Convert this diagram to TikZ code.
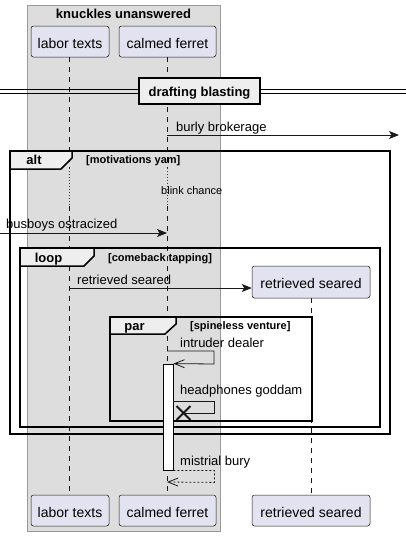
\documentclass[tikz,border=0pt]{standalone}
\usepackage{fontspec}
\setmainfont{Liberation Sans}
\usetikzlibrary{arrows.meta,shapes.misc}
\definecolor{partfill}{HTML}{E2E2F0}
\definecolor{linec}{HTML}{181818}
\definecolor{boxfill}{HTML}{DDDDDD}
\definecolor{boxline}{HTML}{9A9A9A}
\definecolor{tabfill}{HTML}{EEEEEE}
\definecolor{delayc}{HTML}{B0003A}
\newcommand{\fsz}[1]{\fontsize{#1}{#1}\selectfont}
\begin{document}
\begin{tikzpicture}[x=1pt,y=-1pt,
  part/.style={draw=linec, fill=partfill, rounded corners=2.5pt, line width=0.5pt,
    minimum height=31pt, inner sep=0pt, text height=13pt, text depth=0pt, font=\fsz{14}},
  lifeline/.style={draw=linec, line width=0.5pt, dash pattern=on 5pt off 5pt},
  delayline/.style={draw=delayc, line width=0.9pt, dash pattern=on 1pt off 2pt},
  msg/.style={draw=linec, line width=0.8pt, -{Stealth[length=10pt,width=8pt,inset=2.5pt]}},
  selfmsg/.style={draw=linec, line width=0.8pt, -{Straight Barb[length=10pt,width=8pt]}},
  retmsg/.style={draw=linec, line width=0.8pt, dash pattern=on 2pt off 2pt, -{Straight Barb[length=10pt,width=8pt,line width=0.8pt]}},
  plainmsg/.style={draw=linec, line width=0.8pt},
  msglabel/.style={anchor=base west, inner sep=0pt, font=\fsz{13}},
  framebox/.style={draw=black, line width=1.5pt},
  tabshape/.style={draw=black, fill=tabfill, line width=1.5pt},
  tablabel/.style={anchor=base, inner sep=0pt, font=\bfseries\fsz{13}},
  condlabel/.style={anchor=base west, inner sep=0pt, font=\bfseries\fsz{11}},
  xmarkstyle/.style={cross out, draw=linec, line width=1.8pt, minimum size=12pt, inner sep=0pt},
  actbar/.style={draw=black, fill=white, line width=0.8pt, minimum width=10pt, inner sep=0pt}
]
\useasboundingbox (0,0) rectangle (406,536);
% group box
\draw[fill=boxfill, draw=boxline, line width=0.8pt] (27,5) rectangle (220,531);
\node[anchor=base, inner sep=0pt, font=\bfseries\fsz{13}] (grptitle) at (123.5,18.5) {knuckles unanswered};

% participants
\node[part, minimum width=78pt] (ltTop) at (70,41.5) {labor texts};
\node[part, minimum width=97pt] (cfTop) at (167.5,41.5) {calmed ferret};
\node[part, minimum width=78pt] (ltBot) at (70,510.5) {labor texts};
\node[part, minimum width=97pt] (cfBot) at (167.5,510.5) {calmed ferret};
\node[part, minimum width=118pt] (rsBot) at (311,510.5) {retrieved seared};

% lifeline coordinates
\coordinate (lt0) at (69,57);
\coordinate (lt1) at (69,168);
\coordinate (lt2) at (69,206);
\coordinate (lt3) at (69,494.5);
\coordinate (cf0) at (167,57);
\coordinate (cf1) at (167,168);
\coordinate (cf2) at (167,206);
\coordinate (cf3) at (167,494.5);
\draw[lifeline] (lt0) -- (lt1);
\draw[delayline] (lt1) -- (lt2);
\draw[lifeline] (lt2) -- (lt3);
\draw[lifeline] (cf0) -- (cf1);
\draw[delayline] (cf1) -- (cf2);
\draw[lifeline] (cf2) -- (cf3);
\coordinate (rs0) at (311,298);
\coordinate (rs1) at (311,494.5);
\draw[lifeline] (rs0) -- (rs1);

% divider
\coordinate (dl1) at (0,89.8);
\coordinate (dr1) at (406,89.8);
\coordinate (dl2) at (0,93.2);
\coordinate (dr2) at (406,93.2);
\draw[draw=black, line width=1pt] (dl1) -- (dr1);
\draw[draw=black, line width=1pt] (dl2) -- (dr2);
\node[draw=black, line width=2pt, fill=tabfill, minimum width=121pt, minimum height=26pt,
  inner sep=0pt, text height=10pt, text depth=0pt, font=\bfseries\fsz{13}] (divider) at (199.5,91) {drafting blasting};

% burly brokerage
\coordinate (cfBurly) at (167,135);
\coordinate (rightEnd) at (399,135);
\draw[msg] (cfBurly) -- (rightEnd);
\node[msglabel] (lblBurly) at (176,131) {burly brokerage};

% alt frame
\draw[framebox] (10,151) rectangle (390,434);
\draw[tabshape] (10,151) -- (72,151) -- (72,158) -- (61,169) -- (10,169) -- cycle;
\node[tablabel] (altlbl) at (34,164.5) {alt};
\node[condlabel] (altcond) at (86,163.5) {[motivations yam]};

% delay
\node[anchor=base west, inner sep=0pt, font=\fsz{11}] (delaytxt) at (161,194) {blink chance};

% busboys ostracized
\coordinate (leftEnd) at (0,233);
\coordinate (cfBus) at (167,233);
\draw[msg] (leftEnd) -- (cfBus);
\node[msglabel] (lblBus) at (6,228) {busboys ostracized};

% loop frame
\draw[framebox] (20,248) rectangle (380,427);
\draw[tabshape] (20,248) -- (94,248) -- (94,256) -- (84,266) -- (20,266) -- cycle;
\node[tablabel] (looplbl) at (48.5,262) {loop};
\node[condlabel] (loopcond) at (108,261.5) {[comeback tapping]};

% retrieved seared (created)
\node[part, minimum width=118pt, minimum height=32pt] (rsTop) at (311,282) {retrieved seared};
\coordinate (ltRet) at (69,288);
\draw[msg] (ltRet) -- (ltRet -| rsTop.west);
\node[msglabel] (lblRet) at (77,284) {retrieved seared};

% par frame
\draw[framebox] (110,317) rectangle (312,421);
\draw[tabshape] (110,317) -- (176,317) -- (176,324) -- (165,334) -- (110,334) -- cycle;
\node[tablabel] (parlbl) at (134.5,330) {par};
\node[condlabel] (parcond) at (190,329.5) {[spineless venture]};

% activation
\node[actbar, minimum height=106pt] (act) at (168,417) {};

% intruder dealer
\coordinate (cfIntr) at (167,351);
\draw[selfmsg] (cfIntr) -- ++(47,0) -- ++(0,13) -- (act.north east);
\node[msglabel] (lblIntr) at (180,347) {intruder dealer};

% headphones goddam
\node[xmarkstyle] (xmark) at (183.5,413) {};
\coordinate (actHp) at (173,401);
\draw[plainmsg] (actHp) -- ++(41,0) -- ++(0,12) -- (xmark.center);
\node[msglabel] (lblHp) at (180,394.5) {headphones goddam};

% mistrial bury
\coordinate (cfRet) at (167,482);
\draw[retmsg] (act.south east) -- ++(41,0) -- ++(0,12) -- (cfRet);
\node[msglabel] (lblMis) at (180,465) {mistrial bury};
\end{tikzpicture}
\end{document}
